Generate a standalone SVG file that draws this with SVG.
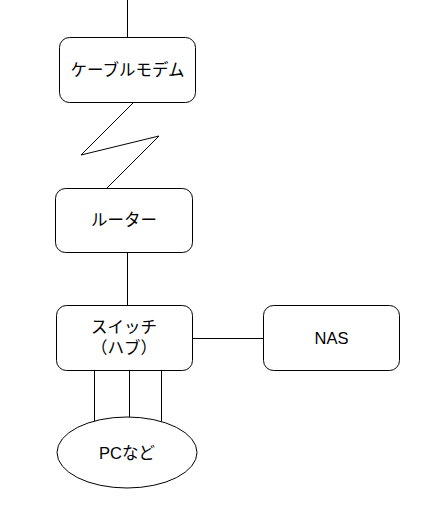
<svg xmlns="http://www.w3.org/2000/svg" width="441" height="512" viewBox="0 0 441 512">
<style>
.n{fill:#fff;stroke:#000;stroke-width:1}
.c{fill:none;stroke:#000;stroke-width:1}
text{font-family:"Liberation Sans","Noto Sans CJK JP",sans-serif;font-size:16.5px;fill:#000;text-anchor:middle;dominant-baseline:central}
</style>
<rect width="441" height="512" fill="#fff"/>
<g id="connectors">
<line class="c" x1="127.5" y1="0" x2="127.5" y2="37"/>
<polyline class="c" points="133,103 81,155 159,136 107,188"/>
<line class="c" x1="127.5" y1="253" x2="127.5" y2="305"/>
<line class="c" x1="193" y1="338.5" x2="263" y2="338.5"/>
<line class="c" x1="94.5" y1="371" x2="94.5" y2="422"/>
<line class="c" x1="129.5" y1="371" x2="129.5" y2="417"/>
<line class="c" x1="161.5" y1="371" x2="161.5" y2="422"/>
</g>
<g id="modem">
<rect class="n" x="59.5" y="37.5" width="136" height="65" rx="10"/>
<text x="127.5" y="70">ケーブルモデム</text>
</g>
<g id="router">
<rect class="n" x="55.5" y="188.5" width="137" height="64" rx="10"/>
<text x="124" y="220">ルーター</text>
</g>
<g id="switch">
<rect class="n" x="56.5" y="305.5" width="136" height="65" rx="10"/>
<text x="124" y="327">スイッチ</text>
<text x="124" y="348">（ハブ）</text>
</g>
<g id="nas">
<rect class="n" x="263.5" y="305.5" width="136" height="65" rx="10"/>
<text x="331.5" y="338">NAS</text>
</g>
<g id="pc">
<ellipse class="n" cx="127" cy="452.5" rx="70" ry="35.5"/>
<text x="127" y="453">PCなど</text>
</g>
</svg>
